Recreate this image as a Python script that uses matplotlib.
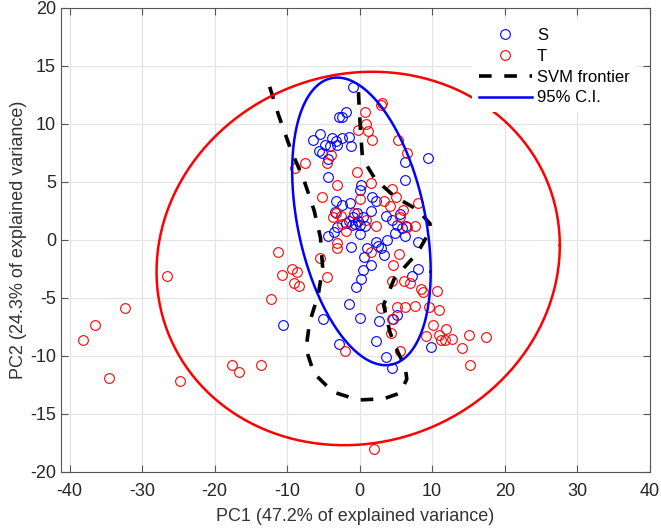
import numpy as np
import matplotlib
matplotlib.use('Agg')
import matplotlib.pyplot as plt

plt.rcParams.update({'font.size': 13, 'font.family': ['Liberation Sans', 'DejaVu Sans'],
                     'axes.unicode_minus': False})

# class S (blue)
s_x = [-0.9, -1.9, -2.9, -2.4, -5.5, -6.4, -3.8, -2.5, -1.5, -4.8, -3.3, -4.1, -3.1, -1.2,
       -5.6, -5.2, -4.3, -4.4, 9.4, 6.2, 6.2, 0.2, 0.0, -3.2, 1.7, 2.2, -2.5, -1.3, -3.4,
       1.6, 3.7, 5.6, 4.5, -1.9, -1.5, -1.0, -0.6, -0.2, 0.1, -0.9, 0.4, -0.3, 0.7, 0.0,
       -3.1, -3.5, -4.4, 5.1, 5.9, 6.4, 4.9, 6.3, 3.8, 2.2, 2.6, 3.0, 8.0, -1.2, 1.0, 0.6,
       3.4, 1.6, 0.5, 0.2, -0.5, 7.2, 8.1, -1.5, 0.0, -5.0, -10.5, 2.7, 5.2, 4.6, -2.9,
       2.3, 3.7, 4.5, 9.8]
s_y = [13.2, 11.0, 10.6, 10.6, 9.1, 8.6, 8.8, 8.8, 8.9, 8.2, 8.5, 8.1, 8.2, 8.1,
       7.7, 7.5, 7.0, 5.4, 7.1, 6.7, 5.2, 4.7, 4.3, 3.4, 3.7, 3.4, 3.0, 3.2, 2.4,
       2.5, 2.1, 2.2, 1.7, 1.5, 1.6, 1.3, 1.4, 1.6, 1.3, 2.0, 2.0, 2.3, 1.2, 0.5,
       1.1, 0.7, 0.3, 1.3, 1.0, 1.2, 0.6, 0.3, 0.0, -0.2, -0.5, -0.7, -0.2, -0.6, -0.7, -1.5,
       -1.3, -2.2, -2.6, -3.4, -4.1, -3.1, -2.5, -5.5, -6.7, -6.8, -7.3, -7.0, -6.5, -6.8, -9.0,
       -8.7, -10.1, -11.0, -9.2]

# class T (red)
t_x = [-38.1, -36.5, -34.5, -32.3, -26.5, -24.8, -17.6, -16.6, -13.6, -12.2, -11.3, -10.7,
       -9.3, -8.7, -9.1, -8.4, -5.4, -4.5, -3.1, -2.0, 2.0, 3.0, 4.3, 4.5, 4.5, 4.6, 5.4,
       5.2, 5.6, 6.2, 6.1, 7.0, 7.6, 8.5, 8.8, 9.5, 10.6, 11.0, 10.1, 9.2, 10.9, 11.2, 11.9,
       11.7, 12.8, 14.1, 15.1, 17.4, 15.2, 7.7, 8.0, 6.0,
       3.1, 2.9, 0.7, 0.9, -0.2, 1.1, 1.7, 5.3, 6.5, -3.9, -4.5, -7.6, -8.9, -0.3, -3.1,
       1.6, 4.4, 5.0, 3.3, -5.2, 0.1, -2.6, -3.7, -3.3, -0.8, 0.9, 2.3, 4.2, 5.5, 6.5,
       1.5, -3.1, -1.9, -2.5]
t_y = [-8.6, -7.3, -11.9, -5.9, -3.1, -12.2, -10.8, -11.4, -10.8, -5.1, -1.0, -3.0,
       -2.5, -2.8, -3.7, -4.0, -1.6, -3.2, -0.3, -9.6, -18.0, -5.9, -8.0, -6.8, -3.5, -2.2, -1.2,
       -5.8, -9.6, -5.8, -3.5, -3.7, -5.7, -4.2, -4.5, -5.8, -4.4, -6.0, -7.3, -8.3, -8.2, -8.6, -7.7,
       -8.6, -8.5, -9.3, -8.2, -8.4, -10.8, 1.2, 3.2, 2.6,
       11.8, 11.6, 11.0, 10.0, 9.5, 9.4, 8.6, 8.6, 7.5, 7.3, 6.6, 6.6, 6.2, 5.9, 4.7,
       4.9, 4.4, 3.7, 3.4, 3.7, 3.5, 2.1, 2.0, 2.3, 2.3, 1.7, 1.2, 2.9, 2.0, 1.1,
       -1.0, -0.7, 0.8, 1.4]

# SVM frontier (traced)
svm_x = [-12.4, -11.2, -9.5, -7.7, -6.3, -5.4, -5.1, -5.7, -6.9, -7.4, -6.3, -3.7, -0.2,
         3.3, 5.6, 6.5, 6.3, 5.3, 4.2, 3.3, 4.8, 8.0, 9.7, 9.7, 8.0, 4.9, 2.2, 0.4, 0.1, -0.2]
svm_y = [13.2, 10.8, 7.8, 5.2, 2.6, 0.2, -2.4, -4.7, -7.1, -9.4, -11.5, -13.1, -13.8,
         -13.7, -13.2, -12.0, -11.0, -9.7, -8.0, -5.6, -3.3, -1.1, 0.8, 1.4, 2.6, 3.7, 5.2, 7.0, 9.6, 13.1]

# 95% C.I. ellipses: centre, half-extent in x and y, correlation
ell_s = (0.25, 1.6, 9.55, 12.4, -0.35)
ell_t = (-0.2, -1.6, 27.8, 16.1, 0.07)


def ellipse(cx, cy, sx, sy, rho):
    t = np.linspace(0, 2 * np.pi, 300)
    x = cx + sx * np.cos(t)
    y = cy + sy * (rho * np.cos(t) + np.sqrt(1 - rho ** 2) * np.sin(t))
    return x, y


fig = plt.figure(figsize=(6.61, 5.32), dpi=100)
ax = fig.add_axes([0.092, 0.113, 0.891, 0.872])

ax.plot(s_x, s_y, 'o', mfc='none', mec='b', ms=7, mew=0.8, label='S')
ax.plot(t_x, t_y, 'o', mfc='none', mec='r', ms=7, mew=0.8, label='T')
ax.plot(svm_x, svm_y, color='k', lw=2.6, dashes=(3.5, 3.5), label='SVM frontier')
ex, ey = ellipse(*ell_s)
ax.plot(ex, ey, color='b', lw=1.8, label='95% C.I.')
ex, ey = ellipse(*ell_t)
ax.plot(ex, ey, color='r', lw=1.8)

ax.set_xlim(-41.2, 40)
ax.set_ylim(-20, 20)
ax.set_xticks(range(-40, 41, 10))
ax.set_yticks(range(-20, 21, 5))
ax.grid(True, color='#e3e3e3', lw=0.8)
ax.set_axisbelow(True)
ax.tick_params(direction='in', top=True, right=True, color='#555555', length=5,
               labelcolor='#262626')
ax.tick_params(axis='x', pad=8)
for sp in ax.spines.values():
    sp.set_color('#555555')
ax.set_xlabel('PC1 (47.2% of explained variance)', color='#333333', labelpad=6)
ax.set_ylabel('PC2 (24.3% of explained variance)', color='#333333', labelpad=2)

leg = ax.legend(loc='upper right', frameon=True, fancybox=False, edgecolor='none',
                facecolor='white', framealpha=1, fontsize=12, handlelength=3.2,
                labelspacing=0.35, borderaxespad=0.8, handletextpad=0.3)

plt.savefig('out.png', dpi=100)
